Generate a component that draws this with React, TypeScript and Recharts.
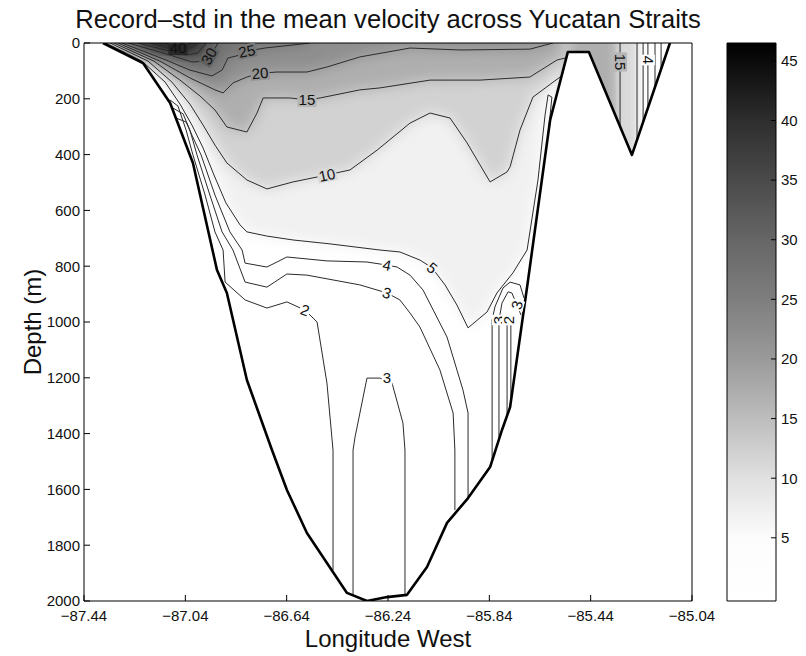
import React from "react";
import { Area, ComposedChart, Line, Scatter, XAxis, YAxis } from "recharts";

type Pt = { lon: number; d: number };
const pts = (rows: number[][]): Pt[] => rows.map(([lon, d]) => ({ lon, d }));

// axes
const lonTicks = [-87.44, -87.04, -86.64, -86.24, -85.84, -85.44, -85.04];
const depthTicks = [0, 200, 400, 600, 800, 1000, 1200, 1400, 1600, 1800, 2000];
const cbarTicks = [5, 10, 15, 20, 25, 30, 35, 40, 45];

// colour scale: std (cm/s) -> grey level
const cmapLevels = [-0.3, 5, 10, 15, 20, 25, 30, 35, 40, 46.5];
const cmapGray = [255, 252, 224, 189, 154, 126, 102, 74, 46, 0];

// sea floor along the section (lon, depth m)
const bathymetry = pts([
  [-87.365, 0], [-87.207, 72], [-87.1, 215], [-87.01, 430], [-86.915, 814], [-86.876, 896],
  [-86.797, 1208], [-86.698, 1459], [-86.639, 1602], [-86.56, 1756], [-86.481, 1864],
  [-86.402, 1971], [-86.323, 2000], [-86.244, 1986], [-86.165, 1978], [-86.086, 1878],
  [-86.007, 1720], [-85.924, 1631], [-85.837, 1520], [-85.79, 1387], [-85.758, 1305],
  [-85.687, 849], [-85.6, 276], [-85.53, 32], [-85.447, 32], [-85.277, 401], [-85.127, 0],
]);

// contour lines of the main channel
const c40 = pts([[-87.18, 0], [-87.112, 18], [-87.053, 25], [-87.01, 14], [-86.994, 0]]);
const c35 = pts([[-87.227, 0], [-87.12, 25], [-87.041, 43], [-86.99, 36], [-86.958, 0]]);
const c30 = pts([[-87.266, 0], [-87.101, 43], [-87.014, 68], [-86.962, 65], [-86.931, 32], [-86.911, 0]]);
const c25 = pts([
  [-87.29, 0], [-87.116, 61], [-87.022, 97], [-86.935, 118], [-86.895, 97], [-86.872, 54],
  [-86.824, 43], [-86.797, 29], [-86.726, 18], [-86.615, 7], [-86.548, 0],
]);
const c20 = pts([
  [-87.306, 0], [-87.14, 65], [-87.022, 125], [-86.923, 168], [-86.891, 179], [-86.852, 143],
  [-86.797, 122], [-86.745, 108], [-86.678, 104], [-86.56, 104], [-86.481, 86], [-86.351, 50],
  [-86.153, 18], [-85.956, 25], [-85.68, 22], [-85.589, 0],
]);
const c15 = pts([
  [-87.322, 0], [-87.164, 65], [-87.061, 133], [-86.982, 190], [-86.923, 240], [-86.876, 301],
  [-86.797, 319], [-86.757, 251], [-86.733, 197], [-86.627, 197], [-86.56, 204], [-86.508, 197],
  [-86.351, 168], [-86.272, 161], [-86.074, 133], [-85.877, 133], [-85.68, 122], [-85.573, 61],
  [-85.541, 54],
]);
const c10 = pts([
  [-87.337, 0], [-87.187, 65], [-87.093, 140], [-87.022, 219], [-86.97, 294], [-86.923, 366],
  [-86.876, 430], [-86.797, 491], [-86.718, 523], [-86.615, 498], [-86.481, 473], [-86.39, 455],
  [-86.283, 384], [-86.153, 287], [-86.074, 251], [-85.995, 269], [-85.928, 358], [-85.837, 498],
  [-85.77, 462], [-85.758, 444], [-85.719, 312], [-85.668, 194], [-85.561, 122], [-85.553, 115],
]);
const c5 = pts([
  [-87.353, 0], [-87.211, 65], [-87.12, 140], [-87.061, 219], [-87.014, 294], [-86.97, 376],
  [-86.927, 473], [-86.88, 573], [-86.824, 652], [-86.797, 677], [-86.718, 692], [-86.615, 706],
  [-86.469, 720], [-86.272, 742], [-86.193, 749], [-86.114, 778], [-86.066, 806], [-86.015, 867],
  [-85.968, 939], [-85.924, 1021], [-85.849, 964], [-85.81, 896], [-85.747, 824], [-85.691, 742],
  [-85.648, 491], [-85.62, 258], [-85.608, 186], [-85.593, 194], [-85.604, 294],
]);
const c4 = pts([
  [-87.077, 269], [-87.037, 283], [-87.014, 330], [-86.978, 401], [-86.923, 545], [-86.864, 677],
  [-86.816, 742], [-86.804, 789], [-86.718, 803], [-86.639, 767], [-86.481, 781], [-86.323, 785],
  [-86.244, 796], [-86.204, 803], [-86.153, 832], [-86.102, 885], [-86.007, 1054], [-85.944, 1244],
  [-85.924, 1326], [-85.924, 1459], [-85.924, 1627],
]);
const c3 = pts([
  [-87.089, 233], [-87.049, 254], [-87.022, 312], [-86.994, 401], [-86.943, 545], [-86.895, 677],
  [-86.852, 742], [-86.804, 857], [-86.718, 875], [-86.639, 828], [-86.56, 832], [-86.351, 867],
  [-86.244, 896], [-86.193, 921], [-86.153, 968], [-86.114, 1018], [-86.035, 1172], [-85.983, 1326],
  [-85.976, 1459], [-85.976, 1674],
]);
const c2 = pts([
  [-87.101, 204], [-87.069, 226], [-87.037, 312], [-87.01, 401], [-86.962, 545], [-86.923, 677],
  [-86.891, 742], [-86.883, 857], [-86.804, 921], [-86.718, 950], [-86.639, 928], [-86.568, 957],
  [-86.52, 1000], [-86.481, 1219], [-86.457, 1459], [-86.457, 1889],
]);
const c3Deep = pts([
  [-86.378, 1978], [-86.378, 1459], [-86.37, 1412], [-86.323, 1201], [-86.272, 1201],
  [-86.224, 1219], [-86.181, 1362], [-86.173, 1459], [-86.173, 1978],
]);
const c3East = pts([
  [-85.829, 1498], [-85.829, 993], [-85.818, 946], [-85.786, 878], [-85.758, 857], [-85.719, 867], [-85.703, 914],
]);
const c3EastInner = pts([
  [-85.802, 1419], [-85.802, 993], [-85.79, 932], [-85.766, 892], [-85.751, 896], [-85.731, 939], [-85.715, 975],
]);
const c2East = pts([[-85.77, 1330], [-85.77, 1000], [-85.762, 982], [-85.755, 1000], [-85.755, 1280]]);

// eastern basin: contours run vertically from the surface to the floor
const basinLon = [-85.324, -85.257, -85.233, -85.214, -85.186, -85.162];
const basinLevel = [15, 10, 5, 4, 3, 2];
const basinFloor = [297, 348, 285, 232, 158, 95];
const basinWest = -85.541;

const labels = [
  { lon: -87.069, d: 18, text: "40", angle: 0, level: 40 },
  { lon: -86.947, d: 47, text: "30", angle: -60, level: 30 },
  { lon: -86.797, d: 29, text: "25", angle: -12, level: 25 },
  { lon: -86.745, d: 108, text: "20", angle: -5, level: 20 },
  { lon: -86.56, d: 204, text: "15", angle: 0, level: 15 },
  { lon: -86.481, d: 473, text: "10", angle: -12, level: 10 },
  { lon: -86.066, d: 806, text: "5", angle: 40, level: 5 },
  { lon: -86.244, d: 796, text: "4", angle: 12, level: 4 },
  { lon: -86.244, d: 896, text: "3", angle: 18, level: 3 },
  { lon: -86.568, d: 957, text: "2", angle: 20, level: 2 },
  { lon: -86.244, d: 1201, text: "3", angle: 0, level: 3 },
  { lon: -85.731, d: 939, text: "3", angle: -75, level: 3 },
  { lon: -85.802, d: 993, text: "3", angle: -90, level: 3 },
  { lon: -85.762, d: 993, text: "2", angle: -90, level: 2 },
  { lon: -85.324, d: 68, text: "15", angle: 90, level: 15 },
  { lon: -85.214, d: 61, text: "4", angle: 90, level: 4 },
];

const font = "'Liberation Sans', Arial, Helvetica, sans-serif";
const lonDomain: [number, number] = [-87.44, -85.04];
const cbarDomain: [number, number] = [cmapLevels[0], cmapLevels[cmapLevels.length - 1]];

function grayLevel(v: number) {
  const lv = cmapLevels;
  if (v >= lv[lv.length - 1]) return cmapGray[lv.length - 1];
  if (v <= lv[0]) return cmapGray[0];
  for (let i = 0; i < lv.length - 1; i++) {
    if (v >= lv[i] && v <= lv[i + 1]) {
      const t = (v - lv[i]) / (lv[i + 1] - lv[i]);
      return cmapGray[i] + t * (cmapGray[i + 1] - cmapGray[i]);
    }
  }
  return 255;
}
const grayAt = (v: number) => {
  const c = Math.round(grayLevel(v));
  return `rgb(${c},${c},${c})`;
};

// filled bands: each polygon covers everything shallower than its contour
const bands = [
  { level: 5, points: c5 },
  { level: 10, points: c10 },
  { level: 15, points: c15 },
  { level: 20, points: c20 },
  { level: 25, points: c25 },
  { level: 30, points: c30 },
  { level: 35, points: c35 },
  { level: 40, points: c40 },
];

const basinEdges = [basinWest, ...basinLon];
const basinDepth = Math.max(...bathymetry.filter((p) => p.lon > basinWest).map((p) => p.d));
const basinBands = basinLevel.map((level, i) => ({
  level,
  points: [
    { lon: basinEdges[i], d: basinDepth },
    { lon: basinEdges[i + 1], d: basinDepth },
  ],
}));

// land: everything under the floor, out to both sides of the frame
const land = [{ lon: lonDomain[0], d: 0 }, ...bathymetry, { lon: lonDomain[1], d: 0 }];

const contours = [
  c40, c35, c30, c25, c20, c15, c10, c5, c4, c3, c2, c3Deep, c3East, c3EastInner, c2East,
  ...basinLon.map((lon, i) => [
    { lon, d: 0 },
    { lon, d: basinFloor[i] },
  ]),
];

const cbarData = [
  { x: 0, v: cbarDomain[1] },
  { x: 1, v: cbarDomain[1] },
];

// gradient stops must run top (offset 0) to bottom (offset 1)
const cbarStops = cmapLevels
  .map((lv, i) => ({ offset: (cbarDomain[1] - lv) / (cbarDomain[1] - cbarDomain[0]), g: cmapGray[i] }))
  .reverse();

const fmtLon = (v: number) => v.toFixed(2).replace("-", "\u2212");

const ContourLabel = (props: any) => {
  const { cx, cy, payload } = props;
  if (cx == null || cy == null) return null;
  const w = payload.text.length * 8.6 + 2;
  return (
    <g transform={`translate(${cx},${cy}) rotate(${payload.angle})`}>
      <rect x={-w / 2} y={-7} width={w} height={14} fill={grayAt(payload.level + 1)} />
      <text textAnchor="middle" dy="0.36em" fontSize={15} fontFamily={font} fill="#111">
        {payload.text}
      </text>
    </g>
  );
};

const tickStyle = { fill: "#111", fontSize: 15, fontFamily: font };

export default function App() {
  return (
    <div style={{ position: "absolute", left: 0, top: 0, width: 806, height: 656, background: "#fff", fontFamily: font, color: "#111" }}>
      <div style={{ position: "absolute", left: 0, top: 0 }}>
        <ComposedChart id="section" width={806} height={656} margin={{ top: 42, right: 113, bottom: 25, left: 24 }}>
          <defs>
            <filter id="shade" x="-20%" y="-20%" width="140%" height="140%">
              <feGaussianBlur stdDeviation="7" />
            </filter>
          </defs>
          {bands.map((b) => (
            <Area
              key={`band-${b.level}`}
              data={b.points}
              dataKey="d"
              type="linear"
              baseValue={-80}
              stroke="none"
              fill={grayAt(b.level + 2)}
              fillOpacity={1}
              filter="url(#shade)"
              isAnimationActive={false}
            />
          ))}
          {basinBands.map((b, i) => (
            <Area
              key={`basin-${i}`}
              data={b.points}
              dataKey="d"
              type="linear"
              baseValue={-80}
              stroke="none"
              fill={grayAt(b.level + 2)}
              fillOpacity={1}
              filter="url(#shade)"
              isAnimationActive={false}
            />
          ))}
          <Area data={land} dataKey="d" type="linear" baseValue={2000} stroke="none" fill="#fff" fillOpacity={1} isAnimationActive={false} />
          {contours.map((c, i) => (
            <Line
              key={`c-${i}`}
              data={c}
              dataKey="d"
              type="linear"
              stroke="#2b2b2b"
              strokeWidth={1}
              dot={false}
              activeDot={false}
              isAnimationActive={false}
            />
          ))}
          <Line
            data={bathymetry}
            dataKey="d"
            type="linear"
            stroke="#000"
            strokeWidth={2.6}
            strokeLinejoin="round"
            dot={false}
            activeDot={false}
            isAnimationActive={false}
          />
          <Scatter data={labels} shape={ContourLabel} isAnimationActive={false} />
          <XAxis
            dataKey="lon"
            type="number"
            domain={lonDomain}
            ticks={lonTicks}
            allowDataOverflow
            interval={0}
            tickFormatter={fmtLon}
            tickSize={-6}
            tickMargin={15}
            height={30}
            stroke="#000"
            tick={tickStyle}
          />
          <XAxis xAxisId="top" orientation="top" type="number" domain={lonDomain} ticks={lonTicks} allowDataOverflow tick={false} tickSize={-6} height={1} stroke="#000" />
          <YAxis
            dataKey="d"
            type="number"
            domain={[0, 2000]}
            reversed
            ticks={depthTicks}
            allowDataOverflow
            interval={0}
            tickSize={-6}
            tickMargin={10}
            width={60}
            stroke="#000"
            tick={tickStyle}
          />
          <YAxis yAxisId="right" orientation="right" type="number" domain={[0, 2000]} reversed ticks={depthTicks} allowDataOverflow tick={false} tickSize={-6} width={1} stroke="#000" />
        </ComposedChart>
      </div>

      {/* colour bar */}
      <div style={{ position: "absolute", left: 700, top: 0 }}>
        <ComposedChart id="colorbar" width={106} height={656} margin={{ top: 42, right: 5, bottom: 54, left: 26 }}>
          <defs>
            <linearGradient id="cbarFill" x1="0" y1="0" x2="0" y2="1">
              {cbarStops.map((s) => (
                <stop key={s.offset} offset={s.offset} stopColor={`rgb(${s.g},${s.g},${s.g})`} />
              ))}
            </linearGradient>
          </defs>
          <Area
            data={cbarData}
            dataKey="v"
            yAxisId="l"
            type="linear"
            baseValue={cbarDomain[0]}
            stroke="none"
            fill="url(#cbarFill)"
            fillOpacity={1}
            isAnimationActive={false}
          />
          <XAxis dataKey="x" type="number" domain={[0, 1]} tick={false} tickLine={false} height={1} stroke="#000" />
          <XAxis xAxisId="t" orientation="top" dataKey="x" type="number" domain={[0, 1]} allowDataOverflow tick={false} tickLine={false} height={1} stroke="#000" />
          <YAxis yAxisId="l" type="number" domain={cbarDomain} ticks={cbarTicks} tick={false} tickSize={-5} width={1} stroke="#000" />
          <YAxis
            yAxisId="r"
            orientation="right"
            type="number"
            domain={cbarDomain}
            ticks={cbarTicks}
            allowDataOverflow
            interval={0}
            tickSize={-5}
            tickMargin={10}
            width={25}
            stroke="#000"
            tick={tickStyle}
          />
        </ComposedChart>
      </div>

      <div style={{ position: "absolute", left: 0, top: 7, width: 776, textAlign: "center", fontSize: 25.6, lineHeight: "25px", whiteSpace: "nowrap" }}>
        Record–std in the mean velocity across Yucatan Straits
      </div>
      <div style={{ position: "absolute", left: 0, top: 627, width: 776, textAlign: "center", fontSize: 24, lineHeight: "24px" }}>
        Longitude West
      </div>
      <div
        style={{
          position: "absolute",
          left: 33 - 100,
          top: 322 - 12,
          width: 200,
          height: 24,
          textAlign: "center",
          fontSize: 24,
          lineHeight: "24px",
          transform: "rotate(-90deg)",
        }}
      >
        Depth (m)
      </div>
    </div>
  );
}
